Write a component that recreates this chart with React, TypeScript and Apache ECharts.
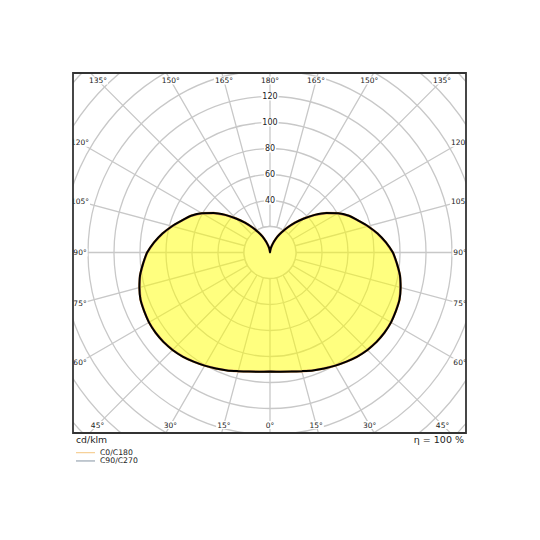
import React, { useEffect, useRef } from "react";
import * as echarts from "echarts";

// gamma angles (deg from nadir) and luminous intensity in cd/klm
const gammaDeg = [
  0, 5, 10, 15, 20, 25, 30, 35, 40, 45, 50, 55, 60, 65, 70, 75, 80, 85, 90,
  95, 100, 105, 110, 115, 120, 125, 130, 135, 140, 145, 150, 155, 160, 165, 170, 175, 180,
];
const cdklmC0 = [
  91.5, 92, 93, 94.5, 96.5, 98.5, 100.5, 102.5, 104.5, 106, 107, 107.5, 107.5, 106.8, 106, 104, 101.5, 98, 94.5,
  89.5, 84, 78, 72, 67, 60.5, 53, 45, 37, 30, 23.5, 18, 13.5, 9, 5.5, 3, 1, 0,
];
const cdklmC90 = [
  91.5, 92, 93, 94.5, 96.5, 98.5, 100.5, 102.5, 104.5, 106, 107, 107.5, 107.5, 106.8, 106, 104, 101.5, 98, 94.5,
  89.5, 84, 78, 72, 67, 60.5, 53, 45, 37, 30, 23.5, 18, 13.5, 9, 5.5, 3, 1, 0,
];

const radiusTicks = [40, 60, 80, 100, 120];
const angleTicks = [0, 15, 30, 45, 60, 75, 90, 105, 120, 135, 150, 165, 180];
const unitLabel = "cd/klm";
const lorLabel = "η = 100 %";
const legendNames = ["C0/C180", "C90/C270"];

const CX = 270;
const CY = 252.5;
const PX = 1.3; // px per cd/klm
const FL = 73, FT = 73, FR = 466, FB = 433;
const FONT = '"DejaVu Sans", sans-serif';
const GRID = "#c8c8c8";

// both half planes of one C plane, angle axis runs 0..360
function fullCurve(values: number[]) {
  const pts: number[][] = gammaDeg.map((g, i) => [values[i], g]);
  for (let i = gammaDeg.length - 2; i >= 0; i--) {
    pts.push([values[i], 360 - gammaDeg[i]]);
  }
  return pts;
}

function angleLabelPos(g: number, side: number) {
  const rad = (g * Math.PI) / 180;
  if (g <= 45) {
    const dy = FB - 8 - CY;
    return [CX + side * dy * Math.tan(rad), CY + dy];
  }
  if (g >= 135) {
    const dy = CY - (FT + 7.5);
    return [CX + side * dy * Math.tan(Math.PI - rad), CY - dy];
  }
  const dx = 190;
  return [CX + side * dx, CY + dx / Math.tan(rad)];
}

const App: React.FC = () => {
  const chartRef = useRef<HTMLDivElement>(null);

  useEffect(() => {
    const chart = echarts.init(chartRef.current!, null, { renderer: "svg" });

    const gridLine = { show: true, lineStyle: { color: GRID, width: 1.3 } };

    const graphics: any[] = [];
    // radial lines start at the first ring
    graphics.push({
      type: "circle",
      z: 1,
      shape: { cx: CX, cy: CY, r: 20 * PX },
      style: { fill: "#fff", stroke: GRID, lineWidth: 1.3 },
    });
    // labels on the angles
    angleTicks.forEach((g) => {
      const sides = g === 0 || g === 180 ? [1] : [-1, 1];
      sides.forEach((s) => {
        const [x, y] = angleLabelPos(g, s);
        graphics.push({
          type: "text",
          x: g === 0 || g === 180 ? CX : x,
          y,
          z: 50,
          style: {
            text: g + "°",
            fill: "#222",
            font: "7.5px " + FONT,
            align: "center",
            verticalAlign: "middle",
            backgroundColor: "#fff",
            padding: [0, 1],
          },
        });
      });
    });
    radiusTicks.forEach((r) => {
      graphics.push({
        type: "text",
        x: CX,
        y: CY - r * PX,
        z: 50,
        style: {
          text: String(r),
          fill: "#222",
          font: "8px " + FONT,
          align: "center",
          verticalAlign: "middle",
          backgroundColor: "#fff",
          padding: [0, 1],
        },
      });
    });
    // white masks outside the frame
    const mask = { fill: "#fff" };
    graphics.push(
      { type: "rect", z: 100, shape: { x: 0, y: 0, width: 540, height: FT }, style: mask },
      { type: "rect", z: 100, shape: { x: 0, y: FB, width: 540, height: 540 - FB }, style: mask },
      { type: "rect", z: 100, shape: { x: 0, y: FT, width: FL, height: FB - FT }, style: mask },
      { type: "rect", z: 100, shape: { x: FR, y: FT, width: 540 - FR, height: FB - FT }, style: mask },
      {
        type: "rect",
        z: 110,
        shape: { x: FL, y: FT, width: FR - FL, height: FB - FT },
        style: { fill: "none", stroke: "#333", lineWidth: 1.8 },
      },
      {
        type: "text",
        z: 120,
        x: 76,
        y: 439.5,
        style: { text: unitLabel, fill: "#222", font: "9.3px " + FONT, align: "left", verticalAlign: "middle" },
      },
      {
        type: "text",
        z: 120,
        x: 464,
        y: 439.5,
        style: { text: lorLabel, fill: "#222", font: "9.5px " + FONT, align: "right", verticalAlign: "middle" },
      }
    );

    const option: any = {
      animation: false,
      polar: { center: [CX, CY], radius: [0, 200 * PX] },
      angleAxis: {
        type: "value",
        min: 0,
        max: 360,
        interval: 15,
        startAngle: 270,
        clockwise: true,
        axisLine: { show: false },
        axisTick: { show: false },
        axisLabel: { show: false },
        splitLine: gridLine,
      },
      radiusAxis: {
        type: "value",
        min: 0,
        max: 200,
        interval: 20,
        axisLine: { show: false },
        axisTick: { show: false },
        axisLabel: { show: false },
        splitLine: gridLine,
      },
      legend: {
        data: legendNames,
        orient: "vertical",
        left: 76,
        top: 448.5,
        padding: 0,
        itemGap: 0,
        itemWidth: 19,
        itemHeight: 1.2,
        icon: "rect",
        selectedMode: false,
        z: 120,
        textStyle: { fontSize: 7.7, fontFamily: FONT, color: "#222", lineHeight: 8.3, padding: 0 },
      },
      series: [
        {
          name: legendNames[1],
          type: "line",
          coordinateSystem: "polar",
          data: fullCurve(cdklmC90),
          symbol: "none",
          color: "#9aa6b2",
          lineStyle: { width: 1.5, color: "#9aa6b2" },
        },
        {
          name: legendNames[0],
          type: "line",
          coordinateSystem: "polar",
          data: fullCurve(cdklmC0),
          symbol: "none",
          color: "#f6cf94",
          lineStyle: { width: 2.5, color: "#e0a060" },
        },
        {
          name: "outline",
          type: "line",
          coordinateSystem: "polar",
          data: fullCurve(cdklmC0),
          symbol: "none",
          smooth: 0.3,
          lineStyle: { width: 2, color: "#000" },
          areaStyle: { color: "rgba(255,255,0,0.5)", opacity: 1 },
        },
      ],
      graphic: graphics,
    };

    chart.setOption(option);

    return () => {
      chart.dispose();
    };
  }, []);

  return (
    <div
      ref={chartRef}
      style={{ position: "fixed", left: 0, top: 0, width: "540px", height: "540px", background: "#fff" }}
    ></div>
  );
};

export default App;
